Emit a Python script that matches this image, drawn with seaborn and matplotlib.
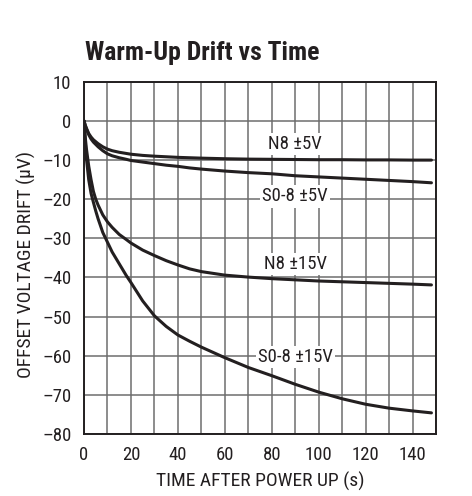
import matplotlib
matplotlib.use("Agg")
import matplotlib.pyplot as plt
from matplotlib import font_manager as fm
import seaborn as sns
import pandas as pd

# ---- data ----
time_s = [0, 0.5, 1, 2, 3, 4, 5, 6, 8, 10, 12, 15, 18, 20, 25, 30, 35, 40, 45, 50,
          60, 70, 80, 90, 100, 110, 120, 130, 140, 148]
n8_5v = [0, -1.0, -1.8, -3.2, -4.1, -4.8, -5.3, -5.8, -6.6, -7.2, -7.6, -8.0, -8.3, -8.5, -8.8,
         -9.0, -9.15, -9.3, -9.4, -9.5, -9.65, -9.75, -9.8, -9.85, -9.9, -9.9, -9.95, -9.95, -10.0, -10.0]
so8_5v = [0, -1.1, -2.0, -3.5, -4.6, -5.4, -6.0, -6.6, -7.6, -8.4, -8.9, -9.4, -9.8, -10.1, -10.5,
          -10.9, -11.3, -11.6, -12.0, -12.3, -12.8, -13.2, -13.5, -14.0, -14.3, -14.6, -14.9, -15.2, -15.5, -15.8]
n8_15v = [0, -4, -7, -11.5, -15, -18, -20, -21.5, -24, -25.8, -27.2, -29, -30.3, -31.2, -33,
          -34.4, -35.7, -36.8, -37.8, -38.5, -39.4, -39.9, -40.3, -40.6, -40.9, -41.1, -41.3, -41.5, -41.7, -41.9]
so8_15v = [0, -5, -9.5, -15, -18.5, -20.8, -23, -25, -28.5, -31, -33.5, -36.5, -39.5, -41.3, -46,
           -49.8, -52.5, -54.7, -56.3, -57.8, -60.5, -63, -65.1, -67.3, -69.3, -71, -72.4, -73.4, -74.1, -74.6]

series_names = ["N8 ±5V", "S0-8 ±5V", "N8 ±15V", "S0-8 ±15V"]
label_x = [90, 90, 90, 90]
label_y = [-5.8, -19.3, -36.5, -60.3]

x_ticks = [0, 20, 40, 60, 80, 100, 120, 140]
y_ticks = [10, 0, -10, -20, -30, -40, -50, -60, -70, -80]
y_tick_labels = ["10", "0", "–10", "–20", "–30", "–40", "–50", "–60", "–70", "–80"]

title = "Warm-Up Drift vs Time"
x_label = "TIME AFTER POWER UP (s)"
y_label = "OFFSET VOLTAGE DRIFT (µV)"

# ---- build long table ----
frames = []
for name, vals in zip(series_names, [n8_5v, so8_5v, n8_15v, so8_15v]):
    frames.append(pd.DataFrame({"t": time_s, "v": vals, "series": name}))
df = pd.concat(frames, ignore_index=True)

sns.set_theme(style="white")

# pick a condensed sans font if one is installed
installed = {(f.name, f.stretch) for f in fm.fontManager.ttflist}
installed_names = {n for n, _ in installed}
family, stretch = "Roboto", "normal"
for cand in ["Liberation Sans Narrow", "Roboto Condensed", "Open Sans Condensed",
             "Noto Sans Condensed", "DejaVu Sans Condensed"]:
    if cand in installed_names:
        family, stretch = cand, "normal"
        break
else:
    if ("DejaVu Sans", "condensed") in installed or ("DejaVu Sans", "semi-condensed") in installed:
        family, stretch = "DejaVu Sans", "condensed"
plt.rcParams["font.family"] = [family, "DejaVu Sans"]
plt.rcParams["font.stretch"] = stretch
plt.rcParams["axes.unicode_minus"] = False

ink = "#231f20"
fig = plt.figure(figsize=(4.72, 4.96), dpi=100)
ax = fig.add_axes([0.178, 0.125, 0.746, 0.71])

sns.lineplot(data=df, x="t", y="v", units="series", estimator=None,
             color=ink, linewidth=2.2, ax=ax, legend=False, zorder=3)

ax.set_xlim(0, 150)
ax.set_ylim(-80, 10)
ax.set_xticks(x_ticks)
ax.set_xticks(list(range(0, 151, 10)), minor=True)
ax.set_yticks(y_ticks)
ax.set_yticklabels(y_tick_labels)
ax.grid(True, which="both", color="#6d6d6d", linewidth=1.1, zorder=1)
ax.tick_params(which="both", length=0, labelsize=13.5, colors=ink)
ax.tick_params(axis="x", pad=9)
ax.tick_params(axis="y", pad=9)
for s in ax.spines.values():
    s.set_color(ink)
    s.set_linewidth(1.4)
    s.set_zorder(4)

ax.set_xlabel(x_label, fontsize=14, color=ink, labelpad=5)
ax.set_ylabel(y_label, fontsize=14, color=ink)
ax.yaxis.set_label_coords(-0.137, 0.4815)

for name, lx, ly in zip(series_names, label_x, label_y):
    ax.text(lx, ly, name, ha="center", va="center", fontsize=13.5, color=ink,
            zorder=5, bbox=dict(facecolor="white", edgecolor="none", pad=1.5))

fig.text(85 / 472, 1 - 60 / 496, title, fontsize=18.5, fontweight="bold",
         color=ink, ha="left", va="baseline")

fig.savefig("out.png", dpi=100)
